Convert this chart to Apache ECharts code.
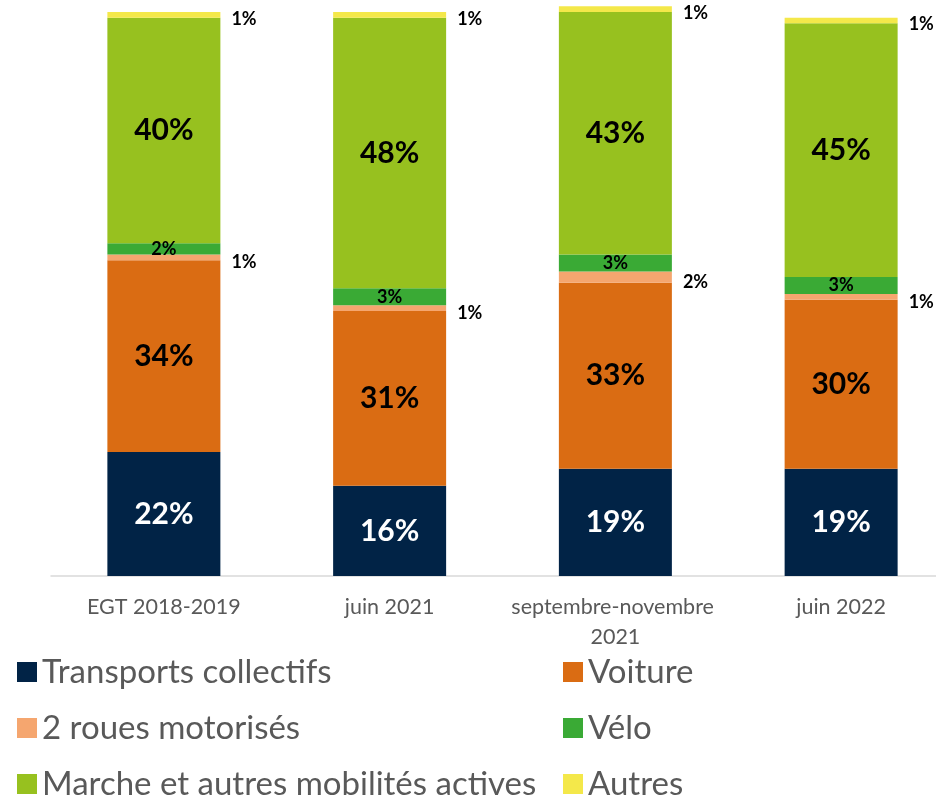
<!DOCTYPE html>
<html lang="fr">
<head>
<meta charset="utf-8">
<title>Parts modales</title>
<script src="https://cdn.jsdelivr.net/npm/echarts@6/dist/echarts.min.js"></script>
<style>
  html, body { margin: 0; padding: 0; background: #ffffff; }
  #chart { width: 936px; height: 800px; }
</style>
</head>
<body>
<div id="chart"></div>
<script>
// Périodes d'enquête
const categories = ['EGT 2018-2019', 'juin 2021', 'septembre-novembre 2021', 'juin 2022'];

// Parts modales (%) par période
const transportsCollectifs = [22, 16, 19, 19];
const voiture = [34, 31, 33, 30];
const deuxRoues = [1, 1, 2, 1];
const velo = [2, 3, 3, 3];
const marche = [40, 48, 43, 45];
const autres = [1, 1, 1, 1];

const FONT = 'Lato';

const bigLabel = (color) => ({
  show: true,
  position: 'inside',
  formatter: '{c}%',
  color: color,
  fontFamily: FONT,
  fontWeight: 'bold',
  fontSize: 30
});

const smallInside = {
  show: true,
  position: 'inside',
  formatter: '{c}%',
  color: '#000000',
  fontFamily: FONT,
  fontWeight: 'bold',
  fontSize: 18
};

const sideLabel = (dy) => ({
  show: true,
  position: 'right',
  distance: 11,
  offset: [0, dy],
  formatter: '{c}%',
  color: '#000000',
  fontFamily: FONT,
  fontWeight: 'bold',
  fontSize: 18
});

const bar = (name, data, color, label) => ({
  name: name,
  type: 'bar',
  stack: 'total',
  barWidth: 113,
  clip: false,
  data: data,
  itemStyle: { color: color },
  label: label,
  emphasis: { disabled: true }
});

const legendText = {
  fontFamily: FONT,
  fontSize: 33,
  lineHeight: 36,
  color: '#595959'
};

const legendBase = {
  orient: 'vertical',
  top: 649,
  height: 170,
  itemWidth: 20,
  itemHeight: 20,
  itemGap: 20,
  icon: 'rect',
  textStyle: legendText
};

const chart = echarts.init(document.getElementById('chart'), null, { renderer: 'canvas' });

chart.setOption({
  animation: false,
  backgroundColor: '#ffffff',
  grid: {
    left: 51,
    top: 12,
    width: 903,
    height: 564,
    containLabel: false,
    outerBoundsMode: 'none'
  },
  xAxis: {
    type: 'category',
    data: categories,
    axisLine: { show: true, lineStyle: { color: '#D9D9D9', width: 1.5 } },
    axisTick: { show: false },
    axisLabel: {
      interval: 0,
      margin: 16,
      color: '#595959',
      fontFamily: FONT,
      fontSize: 21.5,
      lineHeight: 30,
      width: 226,
      overflow: 'break'
    }
  },
  yAxis: {
    type: 'value',
    min: 0,
    max: 100,
    show: false,
    splitLine: { show: false }
  },
  legend: [
    Object.assign({}, legendBase, {
      left: 12,
      itemTextGap: 12,
      data: ['Transports collectifs', '2 roues motorisés', 'Marche et autres mobilités actives']
    }),
    Object.assign({}, legendBase, {
      left: 558,
      itemTextGap: 10,
      data: ['Voiture', 'Vélo', 'Autres']
    })
  ],
  series: [
    bar('Transports collectifs', transportsCollectifs, '#012346', bigLabel('#ffffff')),
    bar('Voiture', voiture, '#DA6C13', bigLabel('#000000')),
    bar('2 roues motorisés', deuxRoues, '#F5A66F', sideLabel(5)),
    bar('Vélo', velo, '#3AAA35', smallInside),
    bar('Marche et autres mobilités actives', marche, '#97C11F', bigLabel('#000000')),
    bar('Autres', autres, '#F4E84A', sideLabel(4))
  ]
});
</script>
</body>
</html>
